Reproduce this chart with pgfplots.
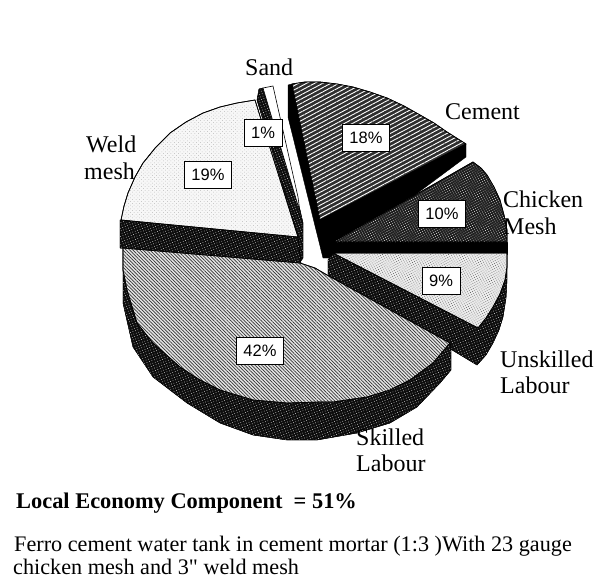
\documentclass[border=0pt]{standalone}
\usepackage{fontspec}
\setmainfont{Liberation Serif}
\newfontfamily\boxfont{Liberation Sans}
\newfontfamily\plainserif{Liberation Serif}
\usepackage{pgfplots}
\usetikzlibrary{patterns.meta}
\pgfplotsset{compat=1.18}
\newcommand{\lab}{\fontsize{24}{26}\selectfont}
\tikzset{
  pct/.style={draw=black,line width=1pt,fill=white,inner sep=0pt,minimum height=27pt,font=\boxfont\fontsize{16.5}{18}\selectfont},
  txt/.style={anchor=base west,inner sep=0pt,font=\lab},
  side/.style={draw=black,fill=black!95,postaction={pattern={Dots[distance=2.6pt,radius=0.4pt,angle=20]},pattern color=white}}
}
% page pixels are used as axis units, y pointing down
\begin{document}
\begin{tikzpicture}
\begin{axis}[
  width=606pt,height=582pt,scale only axis,hide axis,
  xmin=0,xmax=606,ymin=0,ymax=582,y dir=reverse,
  enlargelimits=false,clip=false,
  every axis plot/.append style={line join=round},
]
\addplot[draw=none] coordinates {(0,0) (606,582)};

% Sand 1%
\addplot[side] coordinates {
(259,89) (263,88) (300,210) (303,223) (303,258) (300,262) (298,237) (257,100)} -- cycle;
\addplot[draw=black,line width=0.6pt,fill=white] coordinates {(263,88) (273,86) (298,197) (300,212)} -- cycle;

% Weld mesh 19%
\addplot[side] coordinates {
(120,220) (298,237) (301,264) (120,248)} -- cycle;
\addplot[draw=black,line width=0.7pt,fill=black!3,postaction={pattern={Dots[distance=2.6pt,radius=0.35pt,angle=45]},pattern color=black!45}] coordinates {
(298,237) (121,220) (124,206) (128,193) (135,177) (143,163) (156,147) (170,133) (186,122) (203,113) (220,107) (237,103) (255,100)} -- cycle;

% Cement 18%
\addplot[draw=black,fill=black] coordinates {
(288,85) (292,84) (320,220) (466,144) (466,157) (330,258) (323,258) (288,117)} -- cycle;
\addplot[draw=black,line width=0.7pt,fill=black!82,postaction={pattern={Lines[angle=28,distance=3.8pt,line width=0.9pt]},pattern color=white}] coordinates {
(320,220) (292,84) (305,82) (320,82) (337,84) (353,87) (370,92) (387,98) (404,106) (420,115) (434,123) (447,132) (466,144)} -- cycle;

% Chicken mesh 10%
\addplot[draw=black,fill=black] coordinates {(329,242) (507,242) (507,254) (329,254)} -- cycle;
\addplot[draw=black,line width=0.7pt,fill=black!88,postaction={pattern={Dots[distance=2.2pt,radius=0.42pt,angle=30]},pattern color=white}] coordinates {
(333,242) (473,162) (481,168) (487,175) (494,187) (500,200) (504,215) (507,230) (507,242)} -- cycle;

% Unskilled labour 9%
\addplot[side] coordinates {
(333,253) (328,260) (328,275) (477,365) (486,355) (493,343) (499,330) (503,317) (506,298) (507,280) (507,253)} -- cycle;
\addplot[draw=black,line width=0.7pt,fill=black!8,postaction={pattern={Dots[distance=2.2pt,radius=0.42pt,angle=30]},pattern color=black!70}] coordinates {
(333,253) (507,253) (507,267) (505,280) (500,294) (493,307) (486,318) (478,328)} -- cycle;

% Skilled labour 42%
\addplot[side] coordinates {
(123,248) (450,343) (451,348) (451,370) (440,383) (417,407) (390,423) (357,433) (317,440) (287,440) (253,435) (220,423) (187,403) (153,377) (133,347) (123,303) (123,270)} -- cycle;
\addplot[draw=black,line width=0.7pt,fill=black!10,postaction={pattern={Lines[angle=-45,distance=2.4pt,line width=0.7pt]},pattern color=black!80}] coordinates {
(123,248) (300,263) (315,268) (327,275) (450,343) (433,363) (410,380) (390,390) (367,397) (333,402) (320,402) (287,403) (253,400) (220,390) (200,380) (180,367) (153,343) (137,323) (127,290) (123,270)} -- cycle;

% percentage boxes
\node[pct,minimum width=38pt] at (axis cs:263,133) {1\%};
\node[pct,minimum width=47pt] at (axis cs:366,138) {18\%};
\node[pct,minimum width=47pt] at (axis cs:442,214) {10\%};
\node[pct,minimum width=38pt] at (axis cs:441,281) {9\%};
\node[pct,minimum width=47pt] at (axis cs:208,175) {19\%};
\node[pct,minimum width=47pt] at (axis cs:260,351) {42\%};

% slice names
\node[txt] at (axis cs:245,75) {Sand};
\node[txt] at (axis cs:445,119) {Cement};
\node[txt] at (axis cs:86,152) {Weld};
\node[txt] at (axis cs:84,179) {mesh};
\node[txt] at (axis cs:503,207) {Chicken};
\node[txt] at (axis cs:503,234) {Mesh};
\node[txt] at (axis cs:500,367) {Unskilled};
\node[txt] at (axis cs:500,393) {Labour};
\node[txt] at (axis cs:356,445) {Skilled};
\node[txt] at (axis cs:356,471) {Labour};

% captions
\node[anchor=base west,inner sep=0pt,font=\bfseries\fontsize{22.4}{24}\selectfont] at (axis cs:16,508) {Local Economy Component\ \ = 51\%};
\node[anchor=base west,inner sep=0pt,font=\fontsize{22.2}{24}\selectfont] at (axis cs:14,551) {Ferro cement water tank in cement mortar (1:3 )With 23 gauge};
\node[anchor=base west,inner sep=0pt,font=\plainserif\fontsize{22.2}{24}\selectfont] at (axis cs:13,574) {chicken mesh and 3" weld mesh};
\end{axis}
\end{tikzpicture}
\end{document}
